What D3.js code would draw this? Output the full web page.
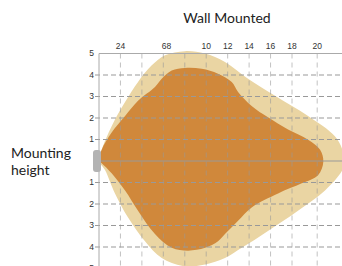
<!DOCTYPE html>
<html>
<head>
<meta charset="utf-8">
<style>
  html, body { margin: 0; padding: 0; background: #fff; }
  svg { display: block; }
</style>
</head>
<body>
<script src="https://cdn.jsdelivr.net/npm/d3@7"></script>
<script>
// distance along the wall (m) vs. height offset (m)
var outerBeam = [
  [0,0],[0.25,0.52],[1.18,1.62],[2.43,2.74],[3.64,3.68],[4.92,4.45],[6.16,4.92],
  [8.02,5.11],[9.89,5.0],[11.75,4.61],[13.9,3.82],[16.42,3.03],[19.5,2.09],
  [22.0,1.15],[22.7,0.52],[22.85,0],[22.7,-0.42],[21.08,-1.37],[18.56,-2.31],
  [15.76,-3.25],[13.31,-4.04],[11.75,-4.51],[9.89,-4.81],[8.02,-4.9],
  [5.85,-4.51],[4.29,-3.73],[2.71,-2.63],[1.49,-1.51],[0.56,-0.42]
];
var innerBeam = [
  [0,0],[0.25,0.52],[1.18,1.32],[2.43,2.09],[3.64,2.8],[5.22,3.44],[5.85,3.82],
  [6.78,4.21],[8.02,4.33],[9.58,4.29],[11.1,4.06],[12.38,3.67],[12.97,3.21],
  [14.24,2.56],[15.76,2.03],[17.63,1.46],[19.5,0.99],[20.62,0.52],[20.92,-0.03],
  [20.43,-0.66],[18.91,-1.04],[16.7,-1.51],[14.24,-2.16],[12.97,-2.78],
  [11.75,-3.4],[11.1,-3.73],[9.89,-4.04],[8.3,-4.17],[6.78,-4.04],[5.22,-3.4],
  [3.64,-2.31],[2.43,-1.37],[1.18,-0.57],[0.25,-0.1]
];
var gridX = [2,4,6,8,10,12,14,16,18,20.35];
var topTicks = [2,6.3,10,12,14,16,18,20.35];
var topLabels = ["24","68","10","12","14","16","18","20"];
var gridY = [5,4,3,2,1,0,-1,-2,-3,-4,-5];
var yLabels = ["5","4","3","2","1","","1","2","3","4","5"];

var width = 342, height = 266;
var svg = d3.select("body").append("svg")
  .attr("width", width).attr("height", height);

var x = d3.scaleLinear().domain([0,18]).range([99,292]);
var y = d3.scaleLinear().domain([-5,5]).range([268.5,53.5]);

var line = d3.line()
  .x(d => x(d[0])).y(d => y(d[1]))
  .curve(d3.curveCatmullRomClosed.alpha(0.5));

svg.append("path").attr("d", line(outerBeam)).attr("fill", "#ead5a3");
svg.append("path").attr("d", line(innerBeam)).attr("fill", "#d0883b");

// grid
svg.selectAll("line.vg").data(gridX).join("line")
  .attr("class","vg")
  .attr("x1", d => x(d)).attr("x2", d => x(d))
  .attr("y1", y(5)).attr("y2", height)
  .attr("stroke", "#999").attr("stroke-opacity", 0.6)
  .attr("stroke-dasharray", "5,4");

svg.selectAll("line.hg").data(gridY.filter(d => d != 0 && Math.abs(d) < 5)).join("line")
  .attr("class","hg")
  .attr("x1", x(0) - 4).attr("x2", width)
  .attr("y1", d => y(d)).attr("y2", d => y(d))
  .attr("stroke", "#999")
  .attr("stroke-dasharray", "5,3");

svg.append("line")
  .attr("x1", x(0)).attr("x2", width)
  .attr("y1", y(0)).attr("y2", y(0))
  .attr("stroke", "#999");
svg.append("line")
  .attr("x1", x(0)).attr("x2", width)
  .attr("y1", y(5)).attr("y2", y(5))
  .attr("stroke", "#aaa");
svg.append("line")
  .attr("x1", x(0)).attr("x2", x(0))
  .attr("y1", y(5)).attr("y2", height)
  .attr("stroke", "#aaa");

// fixture
svg.append("rect")
  .attr("x", x(0) - 6).attr("y", y(0) - 11)
  .attr("width", 8).attr("height", 22)
  .attr("rx", 3)
  .attr("fill", "#b3b3b3");
svg.append("rect")
  .attr("x", x(0)).attr("y", y(0) - 11)
  .attr("width", 2).attr("height", 22)
  .attr("fill", "#fff").attr("opacity", 0);

// tick labels
svg.selectAll("text.tx").data(topTicks).join("text")
  .attr("class","tx")
  .attr("x", d => x(d)).attr("y", 49)
  .attr("text-anchor", "middle")
  .attr("font-family", "Liberation Sans, Arial, sans-serif")
  .attr("font-size", 8.5).attr("fill", "#333")
  .text((d,i) => topLabels[i]);

svg.selectAll("text.ty").data(gridY).join("text")
  .attr("class","ty")
  .attr("x", 94).attr("y", d => y(d))
  .attr("dy", "0.35em")
  .attr("text-anchor", "end")
  .attr("font-family", "Liberation Sans, Arial, sans-serif")
  .attr("font-size", 8.5).attr("fill", "#333")
  .text((d,i) => yLabels[i]);

// titles
svg.append("text")
  .attr("x", 227).attr("y", 23)
  .attr("text-anchor", "middle")
  .attr("font-family", "Lato, sans-serif")
  .attr("font-size", 14).attr("fill", "#222")
  .text("Wall Mounted");

var side = svg.append("text")
  .attr("font-family", "Lato, sans-serif")
  .attr("font-size", 14).attr("fill", "#222");
side.append("tspan").attr("x", 11).attr("y", 158).text("Mounting");
side.append("tspan").attr("x", 11).attr("y", 175).text("height");
</script>
</body>
</html>
